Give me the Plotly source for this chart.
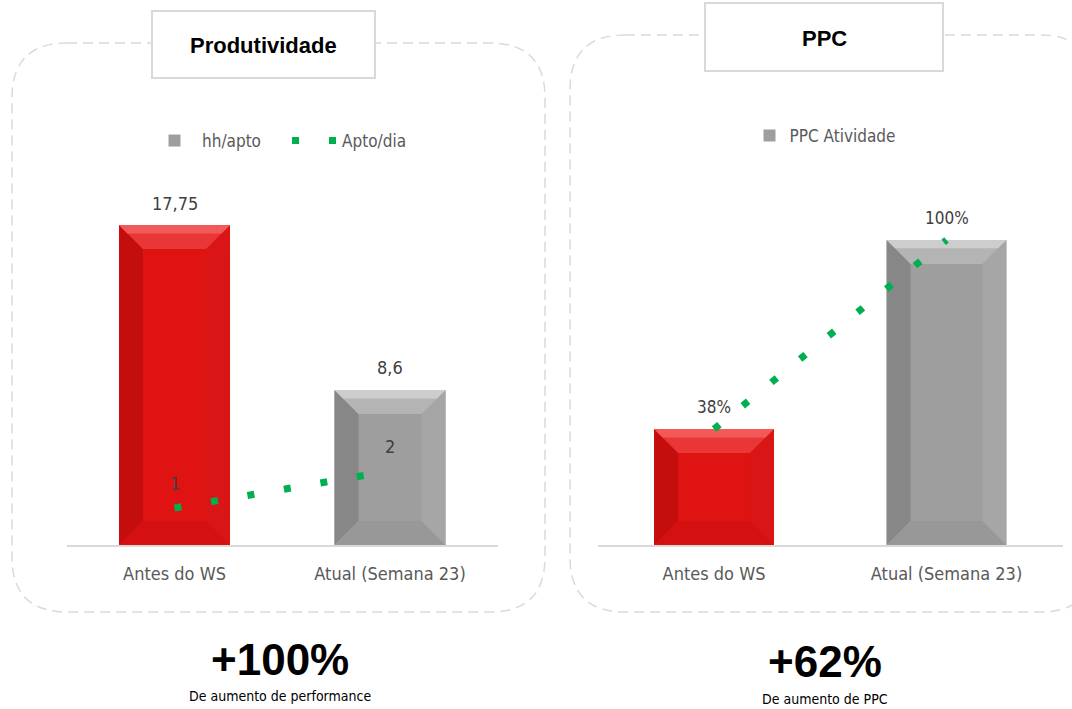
import plotly.graph_objects as go

# ---------------- data ----------------
categorias = ["Antes do WS", "Atual (Semana 23)"]
hh_apto = [17.75, 8.6]
apto_dia = [1, 2]
ppc_atividade = [38, 100]
titulo_esq = "Produtividade"
titulo_dir = "PPC"
destaque_esq = "+100%"
sub_esq = "De aumento de performance"
destaque_dir = "+62%"
sub_dir = "De aumento de PPC"

# ---------------- geometry / style ----------------
W, H = 1072, 709
FONT = "DejaVu Sans Condensed, Liberation Sans Narrow, Arial Narrow, sans-serif"
BOLD = "Liberation Sans, Arial, sans-serif"
GREEN = "#00b050"
TXT = "#595959"

BASE, TOP = 545, 160
L_X0, L_X1 = 66.75, 497.75
R_X0, R_X1 = 597.75, 1062.75
YL_MAX = 21.36
Y3_MAX = 10.405
YR_MAX = 126.2
BAR_W = 0.515
BEVEL = 24  # px


def px(x):
    return x / W


def py(y):
    return 1 - y / H


x_idx = list(range(len(categorias)))

fig = go.Figure()

RED_SET = dict(face="#e01313", top="#e93636", top2="#f25a5a", left="#c40e0e",
               right="#d91515", bottom="#d41010")
GRAY_SET = dict(face="#9e9e9e", top="#b4b4b4", top2="#cdcdcd", left="#878787",
                right="#a6a6a6", bottom="#989898")


def bevel_traces(xc, v, xref, yref, upx_x, upx_y, cs):
    """Bevel facets for a bar, built in data units from its value."""
    hw = BAR_W / 2
    dx = BEVEL / upx_x
    dy = min(BEVEL / upx_y, v / 2)
    x0, x1 = xc - hw, xc + hw
    polys = [
        ([x0, x0, x0 + dx, x0 + dx, x0], [0, v, v - dy, dy, 0], cs["left"]),
        ([x1, x1, x1 - dx, x1 - dx, x1], [0, v, v - dy, dy, 0], cs["right"]),
        ([x0, x1, x1 - dx, x0 + dx, x0], [0, 0, dy, dy, 0], cs["bottom"]),
        ([x0, x1, x1 - dx, x0 + dx, x0], [v, v, v - dy, v - dy, v], cs["top"]),
        ([x0, x1, x1 - dx * 0.35, x0 + dx * 0.35, x0],
         [v, v, v - dy * 0.35, v - dy * 0.35, v], cs["top2"]),
    ]
    out = []
    for xs, ys, c in polys:
        out.append(go.Scatter(x=xs, y=ys, xaxis=xref, yaxis=yref, mode="lines",
                              fill="toself", fillcolor=c, line=dict(width=0, color=c),
                              hoverinfo="skip", showlegend=False))
    return out


# ---- left chart ----
fig.add_trace(go.Bar(x=x_idx, y=hh_apto, name="hh/apto", width=BAR_W,
                     marker=dict(color=GRAY_SET["face"], line=dict(width=0)),
                     xaxis="x", yaxis="y", legend="legend", hoverinfo="skip"))
fig.add_trace(go.Bar(x=x_idx[:1], y=hh_apto[:1], name="hh/apto", width=BAR_W,
                     marker=dict(color=RED_SET["face"], line=dict(width=0)),
                     xaxis="x", yaxis="y", showlegend=False, hoverinfo="skip"))
upx_lx = (L_X1 - L_X0) / 2
upx_ly = (BASE - TOP) / YL_MAX
for i, v in zip(x_idx, hh_apto):
    for t in bevel_traces(i, v, "x", "y", upx_lx, upx_ly, RED_SET if i == 0 else GRAY_SET):
        fig.add_trace(t)
fig.add_trace(go.Scatter(x=x_idx, y=apto_dia, name="Apto/dia", mode="lines",
                         line=dict(color=GREEN, width=7, dash="7px,30px"),
                         xaxis="x", yaxis="y3", legend="legend", hoverinfo="skip"))

# ---- right chart ----
fig.add_trace(go.Bar(x=x_idx, y=ppc_atividade, name="PPC Atividade", width=BAR_W,
                     marker=dict(color=GRAY_SET["face"], line=dict(width=0)),
                     xaxis="x2", yaxis="y2", legend="legend2", hoverinfo="skip"))
fig.add_trace(go.Bar(x=x_idx[:1], y=ppc_atividade[:1], name="PPC Atividade", width=BAR_W,
                     marker=dict(color=RED_SET["face"], line=dict(width=0)),
                     xaxis="x2", yaxis="y2", showlegend=False, hoverinfo="skip"))
upx_rx = (R_X1 - R_X0) / 2
upx_ry = (BASE - TOP) / YR_MAX
for i, v in zip(x_idx, ppc_atividade):
    for t in bevel_traces(i, v, "x2", "y2", upx_rx, upx_ry, RED_SET if i == 0 else GRAY_SET):
        fig.add_trace(t)
fig.add_trace(go.Scatter(x=x_idx, y=ppc_atividade, name="PPC linha", mode="lines",
                         line=dict(color=GREEN, width=7, dash="7px,30px"),
                         xaxis="x2", yaxis="y2", showlegend=False, hoverinfo="skip"))


def fmt(v):
    return f"{v:g}".replace(".", ",")


annotations = []
for i, v in zip(x_idx, hh_apto):
    annotations.append(dict(x=i, y=v, xref="x", yref="y", text=fmt(v), showarrow=False,
                            xanchor="center", yanchor="middle", yshift=22,
                            font=dict(family=FONT, size=18, color="#404040")))
for i, v in zip(x_idx, apto_dia):
    annotations.append(dict(x=i, y=v, xref="x", yref="y3", text=fmt(v), showarrow=False,
                            xanchor="center", yanchor="middle", yshift=25,
                            font=dict(family=FONT, size=18, color="#404040")))
for i, v in zip(x_idx, ppc_atividade):
    annotations.append(dict(x=i, y=v, xref="x2", yref="y2", text=f"{v:g}%", showarrow=False,
                            xanchor="center", yanchor="middle", yshift=22,
                            font=dict(family=FONT, size=17, color="#404040")))


def paper_text(x, y, text, family, size, color="#000000"):
    return dict(x=px(x), y=py(y), xref="paper", yref="paper", text=text, showarrow=False,
                xanchor="center", yanchor="middle", font=dict(family=family, size=size, color=color))


annotations += [
    paper_text(263.5, 45, f"<b>{titulo_esq}</b>", BOLD, 22),
    paper_text(824, 38, f"<b>{titulo_dir}</b>", BOLD, 22),
    paper_text(280, 659, f"<b>{destaque_esq}</b>", BOLD, 44),
    paper_text(280, 696, sub_esq, FONT, 14),
    paper_text(825, 661, f"<b>{destaque_dir}</b>", BOLD, 44),
    paper_text(825, 699, sub_dir, FONT, 14),
]


def rounded_rect(x0, y0, x1, y1, r):
    X0, X1 = px(x0), px(x1)
    Y0, Y1 = py(y0), py(y1)
    rx, ry = r / W, r / H
    return (f"M{X0 + rx},{Y0} L{X1 - rx},{Y0} Q{X1},{Y0} {X1},{Y0 - ry} "
            f"L{X1},{Y1 + ry} Q{X1},{Y1} {X1 - rx},{Y1} "
            f"L{X0 + rx},{Y1} Q{X0},{Y1} {X0},{Y1 + ry} "
            f"L{X0},{Y0 - ry} Q{X0},{Y0} {X0 + rx},{Y0} Z")


dash_line = dict(color="#dadada", width=1.5, dash="10px,6px")
shapes = [
    dict(type="path", xref="paper", yref="paper", path=rounded_rect(12, 43, 545, 612, 55),
         line=dash_line, fillcolor="rgba(0,0,0,0)", layer="below"),
    dict(type="path", xref="paper", yref="paper", path=rounded_rect(570, 35, 1095, 612, 55),
         line=dash_line, fillcolor="rgba(0,0,0,0)", layer="below"),
    dict(type="rect", xref="paper", yref="paper", x0=px(152), x1=px(375), y0=py(78), y1=py(11),
         line=dict(color="#d9d9d9", width=2), fillcolor="white", layer="below"),
    dict(type="rect", xref="paper", yref="paper", x0=px(705), x1=px(943), y0=py(71), y1=py(3),
         line=dict(color="#d9d9d9", width=2), fillcolor="white", layer="below"),
]

xcommon = dict(range=[-0.5, 1.5], tickvals=x_idx, ticktext=categorias, showline=True,
               linecolor="#d9d9d9", linewidth=1.5, ticks="", showgrid=False, zeroline=False,
               tickfont=dict(family=FONT, size=18, color=TXT), ticklabelstandoff=12,
               fixedrange=True)
ycommon = dict(visible=False, showgrid=False, zeroline=False, fixedrange=True)

fig.update_layout(
    width=W, height=H,
    margin=dict(l=0, r=0, t=0, b=0),
    paper_bgcolor="white", plot_bgcolor="rgba(0,0,0,0)",
    barmode="overlay",
    xaxis=dict(domain=[px(L_X0), px(L_X1)], anchor="y", **xcommon),
    yaxis=dict(domain=[py(BASE), py(TOP)], range=[0, YL_MAX], anchor="x", **ycommon),
    yaxis3=dict(overlaying="y", range=[0, Y3_MAX], anchor="x", **ycommon),
    xaxis2=dict(domain=[px(R_X0), px(R_X1)], anchor="y2", **xcommon),
    yaxis2=dict(domain=[py(BASE), py(TOP)], range=[0, YR_MAX], anchor="x2", **ycommon),
    legend=dict(orientation="h", x=px(147), xanchor="left", y=py(141), yanchor="middle",
                font=dict(family=FONT, size=17, color=TXT), bgcolor="rgba(0,0,0,0)",
                itemwidth=45, entrywidth=80, itemclick=False, itemdoubleclick=False),
    legend2=dict(orientation="h", x=px(825), xanchor="center", y=py(136), yanchor="middle",
                 font=dict(family=FONT, size=17, color=TXT), bgcolor="rgba(0,0,0,0)",
                 itemclick=False, itemdoubleclick=False),
    annotations=annotations,
    shapes=shapes,
    showlegend=True,
)

fig.write_html("out.html", config=dict(displayModeBar=False))
